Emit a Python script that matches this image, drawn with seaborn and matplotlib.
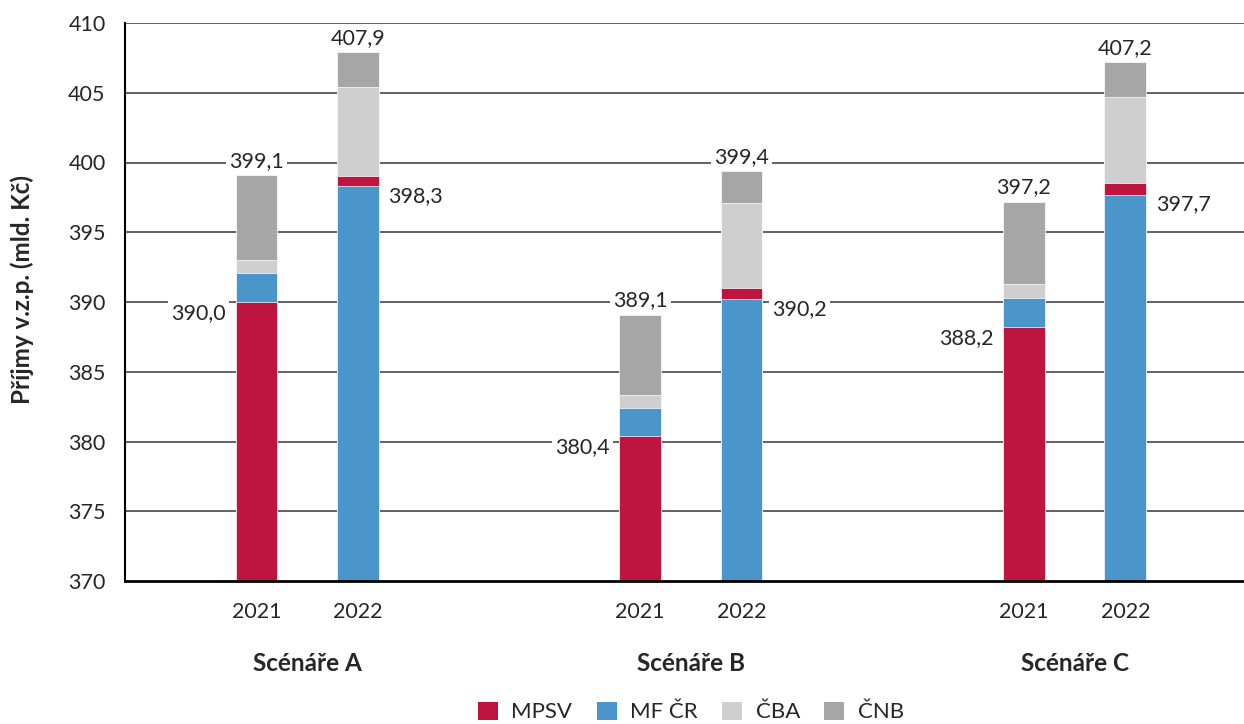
import pandas as pd
import numpy as np
import seaborn as sns
import matplotlib.pyplot as plt
from matplotlib.patches import Patch

# data (upper edge of each series' segment in the stack)
scenarios = ["Scénáře A", "Scénáře B", "Scénáře C"]
years = ["2021", "2022"]
series = ["MPSV", "MF ČR", "ČBA", "ČNB"]
mpsv_top = [390.0, 399.0, 380.4, 391.0, 388.2, 398.5]
mf_top = [392.1, 398.3, 382.4, 390.2, 390.3, 397.7]
cba_top = [393.0, 405.4, 383.3, 397.1, 391.3, 404.7]
cnb_top = [399.1, 407.9, 389.1, 399.4, 397.2, 407.2]

colors = {"MPSV": "#BE1540", "MF ČR": "#4A96CB", "ČBA": "#CFCFCF", "ČNB": "#A6A6A6"}

# layout
group_step = 3.78
xpos = [g * group_step + k for g in range(len(scenarios)) for k in range(len(years))]

rows = []
tops = {"MPSV": mpsv_top, "MF ČR": mf_top, "ČBA": cba_top, "ČNB": cnb_top}
for i, x in enumerate(xpos):
    order = sorted(series, key=lambda s: -tops[s][i])
    for r, s in enumerate(order):
        rows.append({"x": x, "series": s, "top": tops[s][i], "level": r})
df = pd.DataFrame(rows)

sns.set_theme(style="white")
plt.rcParams["font.family"] = ["Lato", "DejaVu Sans"]
fs = 15.5

fig = plt.figure(figsize=(12.44, 7.24), dpi=100)
ax = fig.add_axes([125 / 1244, 143 / 724, 1 - 125 / 1244, 558 / 724])

# gridlines first
for v in range(375, 411, 5):
    ax.axhline(v, color="#555555", lw=1.3, zorder=0)

# draw tallest level first, lower levels on top -> stacked look
for r in range(4):
    sns.barplot(data=df[df["level"] == r], x="x", y="top", hue="series",
                palette=colors, saturation=1, native_scale=True, dodge=False,
                width=0.41, errorbar=None, legend=False, edgecolor="white",
                linewidth=0.5, ax=ax, zorder=2)

ax.set_ylim(370, 410)
ax.set_xlim(-1.296, 9.73)
ax.set_yticks(range(370, 411, 5))
ax.set_yticklabels([str(v) for v in range(370, 411, 5)], fontsize=fs)
ax.set_xticks(xpos)
ax.set_xticklabels(years * len(scenarios), fontsize=fs)
ax.tick_params(axis="x", length=0, pad=15)
ax.tick_params(axis="y", length=0, pad=14)
ax.set_xlabel("")
ax.set_ylabel("")

for sp in ["top", "right"]:
    ax.spines[sp].set_visible(False)
ax.spines["left"].set_color("black")
ax.spines["left"].set_linewidth(1.5)
ax.spines["bottom"].set_color("black")
ax.spines["bottom"].set_linewidth(2)
ax.spines["bottom"].set_zorder(5)

# group labels
for g, name in enumerate(scenarios):
    ax.text(g * group_step + 0.5, -0.147, name, transform=ax.get_xaxis_transform(),
            ha="center", va="center", fontsize=17.5, fontweight="bold")

fig.text(22 / 1244, 1 - 290 / 724, "Příjmy v.z.p. (mld. Kč)", rotation=90,
         ha="center", va="center", fontsize=17.5, fontweight="bold")

def fmt(v):
    return f"{v:.1f}".replace(".", ",")

box = dict(boxstyle="square,pad=0.15", fc="white", ec="none")
half = 0.41 / 2
for i, x in enumerate(xpos):
    ax.annotate(fmt(cnb_top[i]), (x, cnb_top[i]), xytext=(0, 3), textcoords="offset points",
                ha="center", va="bottom", fontsize=fs, bbox=box, zorder=6)
    if i % 2 == 0:
        ax.annotate(fmt(mpsv_top[i]), (x - half, mpsv_top[i]), xytext=(-7, -8),
                    textcoords="offset points", ha="right", va="center",
                    fontsize=fs, bbox=box, zorder=6)
    else:
        ax.annotate(fmt(mf_top[i]), (x + half, mf_top[i]), xytext=(7, -7),
                    textcoords="offset points", ha="left", va="center",
                    fontsize=fs, bbox=box, zorder=6)

handles = [Patch(facecolor=colors[s], edgecolor="none") for s in series]
fig.legend(handles, series, loc="center", bbox_to_anchor=(691 / 1244, 12 / 724),
           ncol=4, frameon=False, fontsize=fs + 0.5, handlelength=0.9, handleheight=0.9,
           columnspacing=1.1, handletextpad=0.6)

fig.savefig("out.png", dpi=100)
